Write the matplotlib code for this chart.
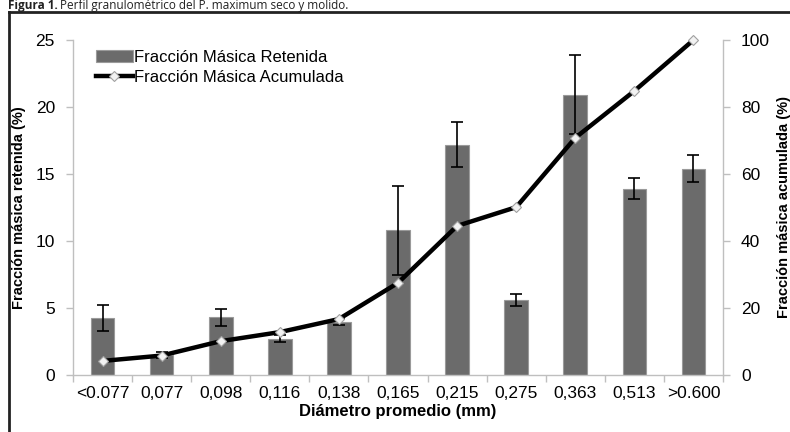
import matplotlib
matplotlib.use("Agg")
import matplotlib.pyplot as plt
from matplotlib.lines import Line2D
import numpy as np

categories = ["<0.077", "0,077", "0,098", "0,116", "0,138", "0,165", "0,215",
              "0,275", "0,363", "0,513", ">0.600"]
retenida = [4.25, 1.5, 4.3, 2.7, 3.95, 10.8, 17.2, 5.6, 20.9, 13.9, 15.4]
retenida_err = [0.95, 0.25, 0.65, 0.25, 0.2, 3.3, 1.7, 0.45, 2.95, 0.8, 1.0]
acumulada = [4.2, 5.8, 10.1, 12.8, 16.7, 27.5, 44.5, 50.1, 70.8, 84.8, 100.0]

plt.rcParams['font.family'] = ['Liberation Sans', 'DejaVu Sans']

fig = plt.figure(figsize=(7.9, 4.32), dpi=100)
ax = fig.add_axes([73/790, 57/432, 650/790, 335/432])
ax2 = ax.twinx()

x = np.arange(len(categories))
axis_gray = '#bfbfbf'

ax.bar(x, retenida, width=0.4, color='#6b6b6b', edgecolor='#9a9a9a', linewidth=0.8,
       yerr=retenida_err, error_kw=dict(ecolor='black', elinewidth=1.2, capsize=4, capthick=1.2),
       label='Fracción Másica Retenida', zorder=2)
ax2.plot(x, acumulada, color='black', linewidth=3.2, marker='D', markersize=5,
         markerfacecolor='#f2f2f2', markeredgecolor='#a0a0a0', markeredgewidth=0.8,
         label='Fracción Másica Acumulada', zorder=3, clip_on=False)

ax.set_xlim(-0.5, len(categories) - 0.5)
ax.set_ylim(0, 25)
ax2.set_ylim(0, 100)
ax.set_yticks([0, 5, 10, 15, 20, 25])
ax2.set_yticks([0, 20, 40, 60, 80, 100])
ax.set_xticks(x)
ax.set_xticklabels(categories)
ax.set_xticks(np.arange(-0.5, len(categories), 1.0), minor=True)
ax.tick_params(axis='x', which='major', length=0, labelsize=12.5, pad=8)
ax.tick_params(axis='x', which='minor', length=5, color=axis_gray, width=1)
ax.tick_params(axis='y', labelsize=12.5, length=5, color=axis_gray, width=1, pad=8)
ax2.tick_params(axis='y', labelsize=12.5, length=5, color=axis_gray, width=1, pad=8)

for a in (ax, ax2):
    a.spines['top'].set_visible(False)
    for s in ('left', 'right', 'bottom'):
        a.spines[s].set_color(axis_gray)
        a.spines[s].set_linewidth(1)
ax.spines['right'].set_visible(False)
ax2.spines['left'].set_visible(False)
ax2.spines['bottom'].set_visible(False)

ax.set_xlabel('Diámetro promedio (mm)', fontsize=12, fontweight='bold', labelpad=2)
ax.set_ylabel('Fracción másica retenida (%)', fontsize=10.5, fontweight='bold', labelpad=7)
ax2.set_ylabel('Fracción másica acumulada (%)', fontsize=10.5, fontweight='bold', labelpad=5)

h1, l1 = ax.get_legend_handles_labels()
h2, l2 = ax2.get_legend_handles_labels()
leg = ax.legend(h1 + h2, l1 + l2, loc='upper left', bbox_to_anchor=(0.02, 1.0),
                frameon=False, fontsize=12, handlelength=2.2, handletextpad=0.1,
                labelspacing=0.3, borderaxespad=0.2)

# outer frame (left and top visible)
fig.add_artist(Line2D([8.5/790, 8.5/790], [0, 1 - 11.5/432], transform=fig.transFigure,
                      color='#222222', linewidth=2))
fig.add_artist(Line2D([8.5/790, 1.0], [1 - 11.5/432, 1 - 11.5/432], transform=fig.transFigure,
                      color='#222222', linewidth=2))

fig.text(8/790, 1 - 8.5/432, 'Figura 1.', fontsize=8.5, fontweight='bold',
         family=['Open Sans', 'DejaVu Sans'], va='baseline', ha='left', color='#222222')
fig.text(60/790, 1 - 8.5/432, 'Perfil granulométrico del P. maximum seco y molido.', fontsize=8.5,
         family=['Open Sans', 'DejaVu Sans'], va='baseline', ha='left', color='#222222')

fig.savefig('out.png', dpi=100)
